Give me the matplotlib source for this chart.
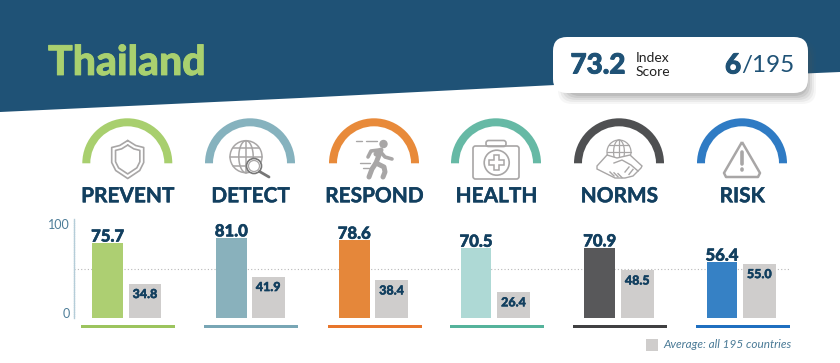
#!/usr/bin/env python3
import numpy as np
import matplotlib
matplotlib.use('Agg')
import matplotlib.pyplot as plt
import matplotlib.patheffects as pe
from matplotlib.patches import Wedge, Circle, Polygon, FancyBboxPatch, Rectangle, PathPatch
from matplotlib.path import Path

plt.rcParams['font.family'] = ['Lato', 'DejaVu Sans']

categories = ['PREVENT', 'DETECT', 'RESPOND', 'HEALTH', 'NORMS', 'RISK']
country_scores = [75.7, 81.0, 78.6, 70.5, 70.9, 56.4]
average_scores = [34.8, 41.9, 38.4, 26.4, 48.5, 55.0]
country = 'Thailand'
index_score = '73.2'
rank = '6'
rank_total = '/195'
legend_label = 'Average: all 195 countries'

bar_colors = ['#adcf72', '#89b1bc', '#e5873a', '#aed9d5', '#58585a', '#3681c5']
arc_colors = ['#a8cf6e', '#86b2be', '#e88a3a', '#66b9a5', '#4f5052', '#2f7bc4']
rule_colors = ['#9cc45e', '#78a6b5', '#e8762c', '#55b39b', '#404042', '#1f6fc0']
navy = '#1f5276'
label_navy = '#123f5f'
gray_bar = '#cfcdcc'
icon_gray = '#a8a6a6'

W, H = 840, 363
arc_x = [127.3, 250, 374, 496, 619, 742]
bar_left = [92.3, 216, 339, 460.7, 584.3, 706.7]
avg_left = [128.7, 252, 375.3, 497.3, 621, 743]


def heavy(w, color):
    # Lato bold is lighter than the original face, thicken it a bit
    return [pe.withStroke(linewidth=w, foreground=color)]


fig = plt.figure(figsize=(W / 100, H / 100), dpi=100)
bg = fig.add_axes([0, 0, 1, 1])
bg.set_xlim(0, W)
bg.set_ylim(H, 0)
bg.axis('off')

# header band
edge_x = [0, 300, 555, 700, 840]
edge_y = [112, 98, 85, 78, 72]
bg.add_patch(Polygon([(0, 0), (W, 0)] + list(zip(edge_x[::-1], edge_y[::-1])), fc=navy, ec='none'))
bg.text(48, 63, country, color='#a9d06f', fontsize=29.5, fontweight='black', va='center', ha='left',
        path_effects=heavy(0.6, '#a9d06f'))

# score card with soft shadow
for grow, a in zip([9, 7, 5, 3, 1], [0.05, 0.07, 0.09, 0.11, 0.13]):
    bg.add_patch(FancyBboxPatch((567 - grow, 50 - grow), 240 + 2 * grow, 45 + 2 * grow,
                                boxstyle='round,pad=0,rounding_size=14', fc='#555555', ec='none', alpha=a))
bg.add_patch(FancyBboxPatch((553, 37), 255, 56, boxstyle='round,pad=0,rounding_size=14', fc='white', ec='none'))
bg.text(570.5, 65.5, index_score, color=navy, fontsize=20, fontweight='black', va='center',
        path_effects=heavy(0.7, navy))
bg.text(636, 58, 'Index', color='#222222', fontsize=10, va='center')
bg.text(636, 72, 'Score', color='#222222', fontsize=10, va='center')
bg.text(741, 65.5, rank, color=navy, fontsize=20, fontweight='black', va='center', ha='right',
        path_effects=heavy(0.7, navy))
bg.text(741, 65.5, rank_total, color=navy, fontsize=17.5, va='center', ha='left')


def line(xs, ys, lw=1.2, color=icon_gray):
    bg.plot(xs, ys, color=color, lw=lw, solid_capstyle='round', solid_joinstyle='round')


def shield(cx):
    for s in [1.0, 0.76]:
        x = np.array([0, 8, 16, 16, 12, 0, -12, -16, -16, -8, 0]) * s + cx
        y = np.array([-19, -14, -12, 3, 11, 19, 11, 3, -12, -14, -19]) * s + 159.5
        line(x, y, 1.2)


def globe(cx, cy, r, lw=1.1):
    bg.add_patch(Circle((cx, cy), r, fc='none', ec=icon_gray, lw=lw))
    t = np.linspace(-np.pi / 2, np.pi / 2, 30)
    line(cx + r * 0.45 * np.cos(t), cy + r * np.sin(t), lw)
    line(cx - r * 0.45 * np.cos(t), cy + r * np.sin(t), lw)
    line([cx, cx], [cy - r, cy + r], lw)
    line([cx - r, cx + r], [cy, cy], lw)
    for f in [-0.55, 0.55]:
        w = r * np.sqrt(1 - f * f)
        line([cx - w, cx + w], [cy + f * r, cy + f * r], lw)


def magnifier():
    globe(246, 156.7, 16)
    bg.add_patch(Circle((254, 166), 7.5, fc='white', ec='#777777', lw=1.2, zorder=3))
    bg.add_patch(Circle((254, 166), 5.5, fc='none', ec=icon_gray, lw=0.9, zorder=3))
    bg.plot([259.5, 269], [171.5, 177], color='#777777', lw=2, zorder=3, solid_capstyle='round')


def runner():
    bg.add_patch(Circle((383.5, 144), 4.2, fc=icon_gray, ec='none'))
    line([376, 381, 376, 372, 369], [154, 150, 163, 169, 177], 3.6)
    line([376, 384, 385, 383], [163, 167, 172, 177], 3.6)
    line([368, 371, 379, 385, 392], [157, 151, 150, 157, 159], 2.6)
    line([356, 362], [141, 141], 1.0)
    line([366, 377], [141, 141], 1.0)
    line([360, 370], [163, 163], 1.0)
    line([363, 369], [168, 168], 1.0)


def kit():
    bg.add_patch(FancyBboxPatch((473, 146), 46, 33, boxstyle='round,pad=0,rounding_size=2.5',
                                fc='white', ec=icon_gray, lw=1.2))
    bg.add_patch(FancyBboxPatch((486, 140.5), 20, 6, boxstyle='round,pad=0,rounding_size=2.5',
                                fc='none', ec=icon_gray, lw=1.2))
    bg.add_patch(Circle((496.7, 162.7), 12.5, fc='none', ec=icon_gray, lw=1.2))
    a, b = 2.6, 7.5
    c = [(-a, -b), (a, -b), (a, -a), (b, -a), (b, a), (a, a), (a, b), (-a, b), (-a, a), (-b, a), (-b, -a), (-a, -a)]
    bg.add_patch(Polygon([(496.7 + p, 162.7 + q) for p, q in c], fc='none', ec=icon_gray, lw=1.1))


def handshake():
    globe(619, 152, 12, 0.9)
    x = [597, 607, 617, 630, 642, 641, 633, 625, 615, 607, 597, 597]
    y = [166, 155, 158, 155, 166, 168, 176, 178, 178, 174, 169, 166]
    bg.add_patch(Polygon(list(zip(x, y)), fc='white', ec=icon_gray, lw=1.0, zorder=3))
    bg.plot([614, 622, 631, 638], [163, 160, 165, 171], color=icon_gray, lw=1.0, zorder=4)
    for dx in [0, 4, 8]:
        bg.plot([610 + dx, 614 + dx], [172 + dx * 0.2, 176 + dx * 0.2], color=icon_gray, lw=1.0, zorder=4)
    for dx in [0, 4]:
        bg.plot([629 + dx, 625 + dx], [167 + dx * 0.6, 172 + dx * 0.6], color=icon_gray, lw=1.0, zorder=4)


def warning():
    v = [(742, 142), (760, 173), (758, 177), (726, 177), (724, 173)]
    verts = v + [v[0]]
    bg.add_patch(PathPatch(Path(verts), fc='none', ec=icon_gray, lw=1.8, joinstyle='round'))
    line([742, 742], [152, 164], 2.6)
    line([742, 742], [169, 169.5], 2.6)


icons = [lambda: shield(127.7), magnifier, runner, kit, handshake, warning]

for cx, col, name, draw_icon, rule in zip(arc_x, arc_colors, categories, icons, rule_colors):
    bg.add_patch(Wedge((cx, 163.3), 45, 180, 360, width=8, fc=col, ec='none'))
    draw_icon()
    bg.text(cx + 0.3, 202.3, name, color=label_navy, fontsize=15, fontweight='bold', ha='center', va='baseline',
            path_effects=heavy(0.3, label_navy))
    bg.add_patch(Rectangle((cx - 46.5, 325), 94, 2.7, fc=rule, ec='none'))

# legend
bg.add_patch(Rectangle((645.7, 338.7), 12.3, 12.3, fc=gray_bar, ec='none'))
bg.text(663, 345, legend_label, color='#4a7a96', fontsize=8.5, style='italic', va='center', ha='left')

# bars, same pixel x scale as the page
top, bottom = 219.3, 318
ax = fig.add_axes([0, 1 - bottom / H, 1, (bottom - top) / H])
ax.patch.set_alpha(0)
ax.set_xlim(0, W)
ax.set_ylim(0, 100)
for s in ['top', 'right', 'bottom']:
    ax.spines[s].set_visible(False)
ax.spines['left'].set_position(('data', 73.7))
ax.spines['left'].set_color('#b5cdd8')
ax.spines['left'].set_linewidth(1.0)
ax.spines['left'].set_linestyle((0, (1, 0.6)))
ax.set_xticks([])
ax.set_yticks([0, 100])
ax.tick_params(axis='y', length=0, pad=3, labelsize=9, labelcolor='#4d7d98')
for lab, va in zip(ax.get_yticklabels(), ['baseline', 'top']):
    lab.set_va(va)
ax.plot([73.7, 790], [50, 50], color='#b9b9b9', lw=0.8, ls=(0, (1, 2)), zorder=1)

bar_w, avg_w = 30.7, 32.5
ax.bar(bar_left, country_scores, width=bar_w, align='edge', color=bar_colors, zorder=2)
ax.bar(avg_left, average_scores, width=avg_w, align='edge', color=gray_bar, zorder=2)
for x, v in zip(bar_left, country_scores):
    ax.annotate(f'{v:.1f}', (x + bar_w / 2, v), xytext=(0, 1.2), textcoords='offset points',
                ha='center', va='baseline', color=label_navy, fontsize=12, fontweight='black', zorder=3,
                path_effects=heavy(0.4, label_navy))
for x, v in zip(avg_left, average_scores):
    ax.annotate(f'{v:.1f}', (x + avg_w / 2, v), xytext=(0, -7.5), textcoords='offset points',
                ha='center', va='center', color=label_navy, fontsize=9, fontweight='black', zorder=3,
                path_effects=heavy(0.3, label_navy))

fig.savefig('out.png', dpi=100)
